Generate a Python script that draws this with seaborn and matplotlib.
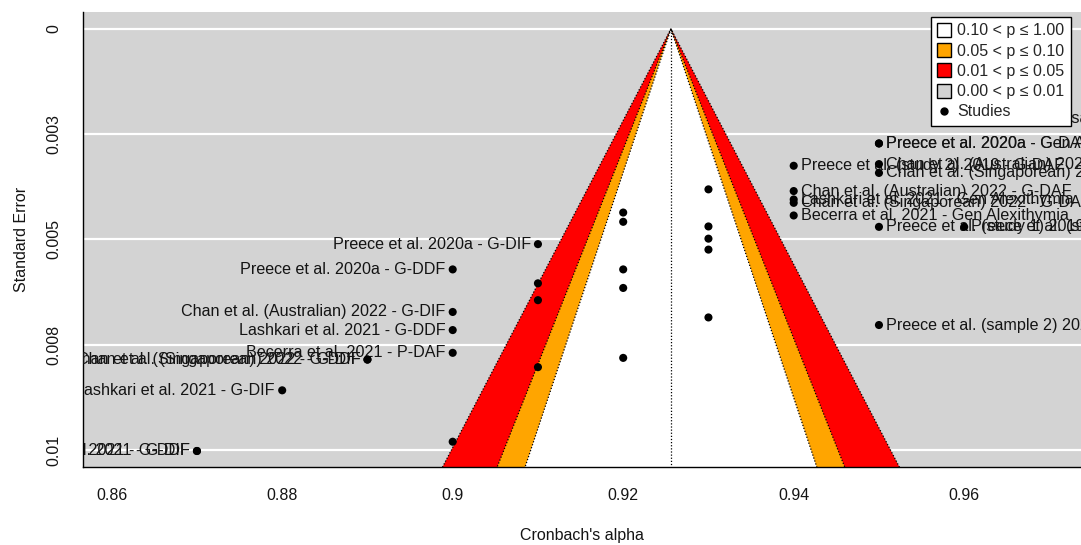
import numpy as np
import pandas as pd
import matplotlib
matplotlib.use("Agg")
import matplotlib.pyplot as plt
import matplotlib.transforms as mtransforms
from matplotlib.lines import Line2D
import seaborn as sns

# Pooled reliability estimate (centre of the funnel)
estimate = 0.9256

# Contour levels: critical values and fill colours, drawn outermost first
z_crit = [2.576, 1.960, 1.645]
shades = ["red", "orange", "white"]

# Studies outside the pseudo-confidence region (labelled)
labeled_study = [
    "Preece et al. 2020a - G-DIF",
    "Preece et al. 2020a - G-DDF",
    "Chan et al. (Australian) 2022 - G-DIF",
    "Lashkari et al. 2021 - G-DDF",
    "Becerra et al. 2021 - P-DAF",
    "Chan et al. (Singaporean) 2022 - G-DIF",
    "Chan et al. (Singaporean) 2022 - G-DDF",
    "Lashkari et al. 2021 - G-DIF",
    "Becerra et al. 2021 - G-DIF",
    "Becerra et al. 2021 - G-DDF",
    "Preece et al. (sample 1) 2020 - Gen Alexithymia",
    "Preece et al. 2020a - G-DAF",
    "Preece et al. 2020a - Gen Alexithymia",
    "Chan et al. (Australian) 2022 - Gen Alexithymia",
    "Chan et al. (Singaporean) 2022 - Gen Alexithymia",
    "Preece et al. (study 2) 2019 - G-DAF",
    "Chan et al. (Australian) 2022 - G-DAF",
    "Lashkari et al. 2021 - Gen Alexithymia",
    "Chan et al. (Singaporean) 2022 - G-DAF",
    "Becerra et al. 2021 - Gen Alexithymia",
    "Preece et al. (study 1) 2019 - G-DAF",
    "Preece et al. (study 1) 2019 - Gen Alexithymia",
    "Preece et al. (sample 2) 2020 - G-DAF",
]
labeled_alpha = [0.91, 0.90, 0.90, 0.90, 0.90, 0.89, 0.89, 0.88, 0.87, 0.87,
                 0.96, 0.95, 0.95, 0.95, 0.95, 0.94, 0.94, 0.94, 0.94, 0.94,
                 0.95, 0.96, 0.95]
labeled_se = [0.00511, 0.00571, 0.00672, 0.00715, 0.00769, 0.00785, 0.00785,
              0.00858, 0.01002, 0.01002,
              0.00212, 0.00272, 0.00272, 0.00321, 0.00342, 0.00325, 0.00385,
              0.00405, 0.00413, 0.00443, 0.00470, 0.00470, 0.00703]

# Studies inside the funnel (unlabelled)
other_alpha = [0.91, 0.91, 0.91, 0.90,
               0.92, 0.92, 0.92, 0.92, 0.92,
               0.93, 0.93, 0.93, 0.93, 0.93]
other_se = [0.00604, 0.00644, 0.00803, 0.00980,
            0.00436, 0.00458, 0.00571, 0.00615, 0.00781,
            0.00381, 0.00469, 0.00498, 0.00524, 0.00685]

x_ticks = [0.86, 0.88, 0.90, 0.92, 0.94, 0.96]
x_tick_labels = ["0.86", "0.88", "0.9", "0.92", "0.94", "0.96"]
y_ticks = [0.0, 0.0025, 0.005, 0.0075, 0.01]
y_tick_labels = ["0", "0.003", "0.005", "0.008", "0.01"]

legend_labels = ["0.10 < p ≤ 1.00", "0.05 < p ≤ 0.10",
                 "0.01 < p ≤ 0.05", "0.00 < p ≤ 0.01", "Studies"]
legend_fills = ["white", "orange", "red", "lightgray"]

sns.set_style("white")
plt.rcParams["font.family"] = ["Liberation Sans", "DejaVu Sans"]
plt.rcParams["font.size"] = 11.5

W, H = 1081, 545
fig = plt.figure(figsize=(W / 100, H / 100), dpi=100)
left_px, bottom_px, top_px = 83.3, 467, 12
ax = fig.add_axes([left_px / W, 1 - bottom_px / H, 1 - left_px / W,
                   (bottom_px - top_px) / H])
ax.set_facecolor("lightgray")
ax.set_xlim(0.85667, 0.9737)
ax.set_ylim(0.0104, -0.0004)

# horizontal reference lines behind the funnel
for yt in y_ticks:
    ax.axhline(yt, color="white", lw=1.6, zorder=1)

# contour-enhanced funnel regions
se_far = 0.0108
for z, col in zip(z_crit, shades):
    xs = [estimate - z * se_far, estimate, estimate + z * se_far]
    ys = [se_far, 0.0, se_far]
    ax.fill(xs, ys, color=col, lw=0, zorder=2)
    ax.plot(xs, ys, color="black", lw=0.9, ls=(0, (1, 1.5)), zorder=3)
ax.plot([estimate, estimate], [0.0, se_far], color="black", lw=0.9,
        ls=(0, (1, 1.5)), zorder=3)

# study points
df = pd.DataFrame({
    "alpha": labeled_alpha + other_alpha,
    "se": labeled_se + other_se,
})
sns.scatterplot(data=df, x="alpha", y="se", color="black", s=34,
                edgecolor="none", zorder=5, ax=ax, legend=False)

# study labels, placed on the outer side of each point
for name, a, s in zip(labeled_study, labeled_alpha, labeled_se):
    dx = -5.2 if a < estimate else 5.2
    tr = ax.transData + mtransforms.ScaledTranslation(dx / 72, 0,
                                                      fig.dpi_scale_trans)
    t = ax.text(a, s, name, transform=tr, ha="right" if a < estimate else "left",
                va="center", fontsize=11.6, color="#141414", zorder=4)
    t.set_clip_on(True)
    t.set_clip_box(ax.bbox)

ax.set_xticks(x_ticks)
ax.set_xticklabels(x_tick_labels)
ax.set_yticks(y_ticks)
ax.set_yticklabels(y_tick_labels, rotation=90, va="center")
ax.tick_params(axis="both", direction="out", length=7, width=1,
               color="black", labelcolor="#141414", labelsize=11.5)
ax.tick_params(axis="x", pad=8)
ax.tick_params(axis="y", pad=9)
ax.set_xlabel("Cronbach's alpha", fontsize=11.5, labelpad=18, color="#141414")
ax.set_ylabel("Standard Error", fontsize=11.5, labelpad=12, color="#141414")

for side in ["top", "right"]:
    ax.spines[side].set_visible(False)
for side in ["left", "bottom"]:
    ax.spines[side].set_color("black")
    ax.spines[side].set_linewidth(1.0)
ax.grid(False)

handles = [Line2D([], [], ls="", marker="s", markersize=9.5,
                  markerfacecolor=c, markeredgecolor="black",
                  markeredgewidth=1.0) for c in legend_fills]
handles.append(Line2D([], [], ls="", marker="o", markersize=5,
                      markerfacecolor="black", markeredgecolor="black"))
leg = ax.legend(handles, legend_labels, loc="upper right",
                bbox_to_anchor=((1071 - left_px) / (W - left_px),
                                (bottom_px - 17) / (bottom_px - top_px)),
                borderaxespad=0, fancybox=False, framealpha=1,
                facecolor="white", edgecolor="black", fontsize=11.5,
                handlelength=0.8, handletextpad=0.45, borderpad=0.4,
                labelspacing=0.33)
leg.get_frame().set_linewidth(1.0)
leg.set_zorder(10)

fig.savefig("out.png", dpi=100)
